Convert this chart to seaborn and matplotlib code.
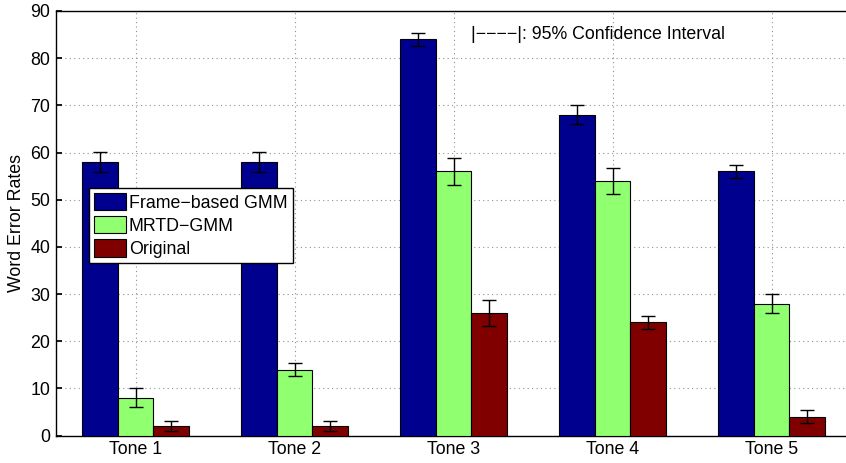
import matplotlib
matplotlib.use("Agg")
import matplotlib.pyplot as plt
import seaborn as sns
import pandas as pd

tones = ["Tone 1", "Tone 2", "Tone 3", "Tone 4", "Tone 5"]
methods = ["Frame\u2212based GMM", "MRTD\u2212GMM", "Original"]
frame_gmm = [58, 58, 84, 68, 56]
mrtd_gmm = [8, 14, 56, 54, 28]
original = [2, 2, 26, 24, 4]
frame_err = [2.1, 2.1, 1.4, 2.05, 1.35]
mrtd_err = [2.0, 1.35, 2.8, 2.8, 2.1]
orig_err = [1.1, 1.1, 2.8, 1.4, 1.35]
colors = ["#00008F", "#90FF70", "#800000"]
yticks = list(range(0, 91, 10))

sns.set_theme(style="white")
plt.rcParams["font.family"] = ["Liberation Sans", "DejaVu Sans"]
plt.rcParams["text.color"] = "black"
plt.rcParams["axes.labelcolor"] = "black"
plt.rcParams["xtick.color"] = "black"
plt.rcParams["ytick.color"] = "black"
FS = 12.8

rows = []
for m, vals, errs in zip(methods, [frame_gmm, mrtd_gmm, original],
                         [frame_err, mrtd_err, orig_err]):
    for t, v, e in zip(tones, vals, errs):
        rows.append({"Tone": t, "Method": m, "WER": v, "err": e})
df = pd.DataFrame(rows)

fig = plt.figure(figsize=(8.46, 4.63), dpi=100)
ax = fig.add_axes([56 / 846, 27.4 / 463, 795 / 846, 424.6 / 463])

sns.barplot(data=df, x="Tone", y="WER", hue="Method", order=tones,
            hue_order=methods, palette=colors, errorbar=None, width=0.67,
            edgecolor="black", linewidth=0.8, saturation=1, ax=ax, zorder=3)

# error bars placed at each bar's center
for container, m in zip(ax.containers, methods):
    sub = df[df["Method"] == m].set_index("Tone").loc[tones]
    xs = [p.get_x() + p.get_width() / 2 for p in container.patches]
    ax.errorbar(xs, sub["WER"].values, yerr=sub["err"].values, fmt="none",
                ecolor="black", elinewidth=1.0, capsize=4.7, capthick=1.0,
                zorder=4)

ax.set_xlim(-0.5, 4.5)
ax.set_ylim(0, 90)
ax.set_yticks(yticks)
ax.set_xlabel("")
ax.set_ylabel("Word Error Rates", fontsize=FS, labelpad=4, color="black")
ax.tick_params(axis="both", direction="in", length=4, labelsize=FS,
               color="black", labelcolor="black", pad=4,
               top=False, right=False, bottom=True, left=True)
ax.grid(True, linestyle=(0, (1, 3)), color="#909090", linewidth=0.8, zorder=0)
ax.set_axisbelow(True)
for s in ax.spines.values():
    s.set_color("black")
    s.set_linewidth(1.0)

ax.text(2.11, 85.1, "|\u2212\u2212\u2212\u2212|: 95% Confidence Interval",
        fontsize=FS, va="center", ha="left", color="black")

leg = ax.legend(loc="upper left", bbox_to_anchor=(0.0415, 0.583), fontsize=FS,
                frameon=True, fancybox=False, edgecolor="black", framealpha=1,
                borderpad=0.3, labelspacing=0.25, handlelength=1.8,
                handleheight=1.1, handletextpad=0.15, borderaxespad=0)
leg.get_frame().set_linewidth(1.0)
for t in leg.get_texts():
    t.set_color("black")

fig.savefig("out.png", dpi=100)
